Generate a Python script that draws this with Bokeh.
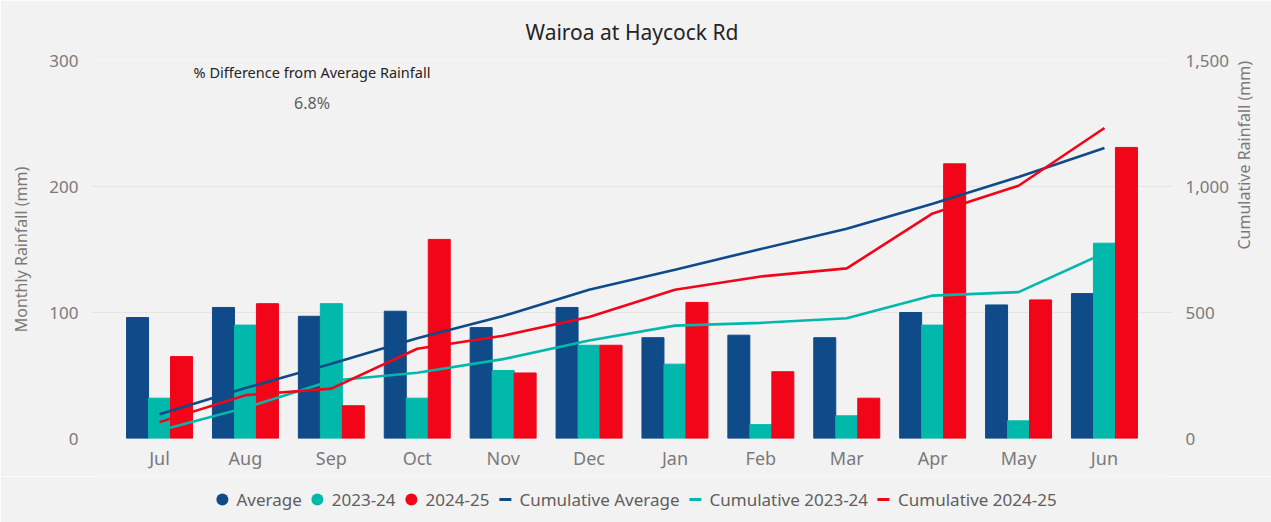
import math
from bokeh.plotting import figure
from bokeh.layouts import column
from bokeh.models import (FactorRange, Range1d, LinearAxis, ColumnDataSource, Legend,
                          LegendItem, Label, NumeralTickFormatter, FixedTicker)
from bokeh.transform import dodge
from bokeh.embed import file_html
from bokeh.resources import INLINE

months = ["Jul", "Aug", "Sep", "Oct", "Nov", "Dec", "Jan", "Feb", "Mar", "Apr", "May", "Jun"]
average = [96, 104, 97, 101, 88, 104, 80, 82, 80, 100, 106, 115]
rain_2023_24 = [32, 90, 107, 32, 54, 74, 59, 11, 18, 90, 14, 155]
rain_2024_25 = [65, 107, 26, 158, 52, 74, 108, 53, 32, 218, 110, 231]
cum_average = [96, 200, 297, 398, 486, 590, 670, 752, 832, 932, 1038, 1153]
cum_2023_24 = [32, 122, 229, 261, 315, 389, 448, 459, 477, 567, 581, 736]
cum_2024_25 = [65, 172, 198, 356, 408, 482, 590, 643, 675, 893, 1003, 1232]
left_ticks = [0, 100, 200, 300]
right_ticks = [0, 500, 1000, 1500]
pct_diff_label = "% Difference from Average Rainfall"
pct_diff_value = "6.8%"

BLUE = "#0f4a89"
TEAL = "#01b8aa"
RED = "#f20519"
BG = "#f2f2f2"
TICK = "#7a7a7a"
FONT = "Noto Sans"

src = ColumnDataSource(dict(month=months, average=average, r2324=rain_2023_24,
                            r2425=rain_2024_25, cavg=cum_average, c2324=cum_2023_24,
                            c2425=cum_2024_25))

p = figure(width=1271, height=476,
           x_range=FactorRange(*months, range_padding=0.0487),
           y_range=Range1d(0, 300),
           output_backend="svg", toolbar_location=None,
           background_fill_color=BG, border_fill_color=BG, outline_line_color=None,
           min_border_left=91, min_border_right=99, min_border_top=60, min_border_bottom=38)
p.extra_y_ranges = {"cum": Range1d(0, 1500)}

p.title.text = "Wairoa at Haycock Rd"
p.title.align = "center"
p.title.text_font = FONT
p.title.text_font_size = "21px"
p.title.text_font_style = "normal"
p.title.text_color = "#252423"
p.title.standoff = 29

w = 0.256
p.vbar(x=dodge("month", -w, range=p.x_range), top="average", width=w, source=src,
       fill_color=BLUE, line_color=BLUE)
p.vbar(x=dodge("month", 0, range=p.x_range), top="r2324", width=w, source=src,
       fill_color=TEAL, line_color=TEAL)
p.vbar(x=dodge("month", w, range=p.x_range), top="r2425", width=w, source=src,
       fill_color=RED, line_color=RED)

p.line(x="month", y="cavg", source=src, y_range_name="cum", line_color=BLUE, line_width=2.6)
p.line(x="month", y="c2324", source=src, y_range_name="cum", line_color=TEAL, line_width=2.6)
p.line(x="month", y="c2425", source=src, y_range_name="cum", line_color=RED, line_width=2.6)

p.yaxis[0].ticker = FixedTicker(ticks=left_ticks)
p.yaxis[0].axis_label = "Monthly Rainfall (mm)"

p.add_layout(LinearAxis(y_range_name="cum", ticker=FixedTicker(ticks=right_ticks),
                        formatter=NumeralTickFormatter(format="0,0"),
                        axis_label="Cumulative Rainfall (mm)"), "right")

for ax in p.yaxis + p.xaxis:
    ax.axis_line_color = None
    ax.major_tick_line_color = None
    ax.minor_tick_line_color = None
    ax.major_tick_out = 0
    ax.major_tick_in = 0
    ax.major_label_text_font = FONT
    ax.major_label_text_color = TICK
    ax.major_label_text_font_size = "17px"
    ax.axis_label_text_font = FONT
    ax.axis_label_text_font_style = "normal"
    ax.axis_label_text_color = TICK
    ax.axis_label_text_font_size = "16px"
    ax.major_label_standoff = 13
    ax.axis_label_standoff = 14
p.yaxis[1].axis_label_orientation = math.pi / 2
p.yaxis[1].axis_label_standoff = 12
p.xaxis.major_label_text_font_size = "18px"
p.xaxis.major_label_standoff = 7

p.ygrid.grid_line_color = "#e4e4e4"
p.ygrid.grid_line_width = 1
p.xgrid.grid_line_color = None

p.add_layout(Label(x=2.275, y=290.5, text=pct_diff_label, text_align="center",
                   text_baseline="middle", text_font=FONT, text_font_size="14.5px",
                   text_color="#252423"))
p.add_layout(Label(x=2.275, y=266.5, text=pct_diff_value, text_align="center",
                   text_baseline="middle", text_font=FONT, text_font_size="16px",
                   text_color="#605e5c"))

# legend strip below the chart: hidden proxies give circle / dash icons
lg = figure(width=1271, height=46, x_range=FactorRange(*months), y_range=Range1d(0, 1500),
            output_backend="svg", toolbar_location=None, x_axis_type=None, y_axis_type=None,
            background_fill_color=BG, border_fill_color=BG, outline_line_color=None,
            min_border=0)
lg.grid.visible = False
k_avg = lg.scatter(x="month", y="average", source=src, marker="circle", fill_color=BLUE, line_color=None, visible=False)
k_23 = lg.scatter(x="month", y="r2324", source=src, marker="circle", fill_color=TEAL, line_color=None, visible=False)
k_24 = lg.scatter(x="month", y="r2425", source=src, marker="circle", fill_color=RED, line_color=None, visible=False)
m_avg = lg.scatter(x="month", y="cavg", source=src, marker="dash", line_color=BLUE, line_width=3, visible=False)
m_23 = lg.scatter(x="month", y="c2324", source=src, marker="dash", line_color=TEAL, line_width=3, visible=False)
m_24 = lg.scatter(x="month", y="c2425", source=src, marker="dash", line_color=RED, line_width=3, visible=False)

legend = Legend(items=[
    LegendItem(label="Average", renderers=[k_avg]),
    LegendItem(label="2023-24", renderers=[k_23]),
    LegendItem(label="2024-25", renderers=[k_24]),
    LegendItem(label="Cumulative Average", renderers=[m_avg]),
    LegendItem(label="Cumulative 2023-24", renderers=[m_23]),
    LegendItem(label="Cumulative 2024-25", renderers=[m_24]),
], orientation="horizontal", location="center", padding=0, margin=0,
    border_line_color=None, background_fill_alpha=0, inactive_fill_alpha=0,
    label_text_font=FONT, label_text_font_size="17px", label_text_color="#605e5c",
    glyph_width=30, glyph_height=30, label_height=30, label_standoff=-5, spacing=0)
lg.add_layout(legend, "center")

page = column(p, lg, spacing=0)
open("out.html", "w").write(file_html(page, INLINE))
